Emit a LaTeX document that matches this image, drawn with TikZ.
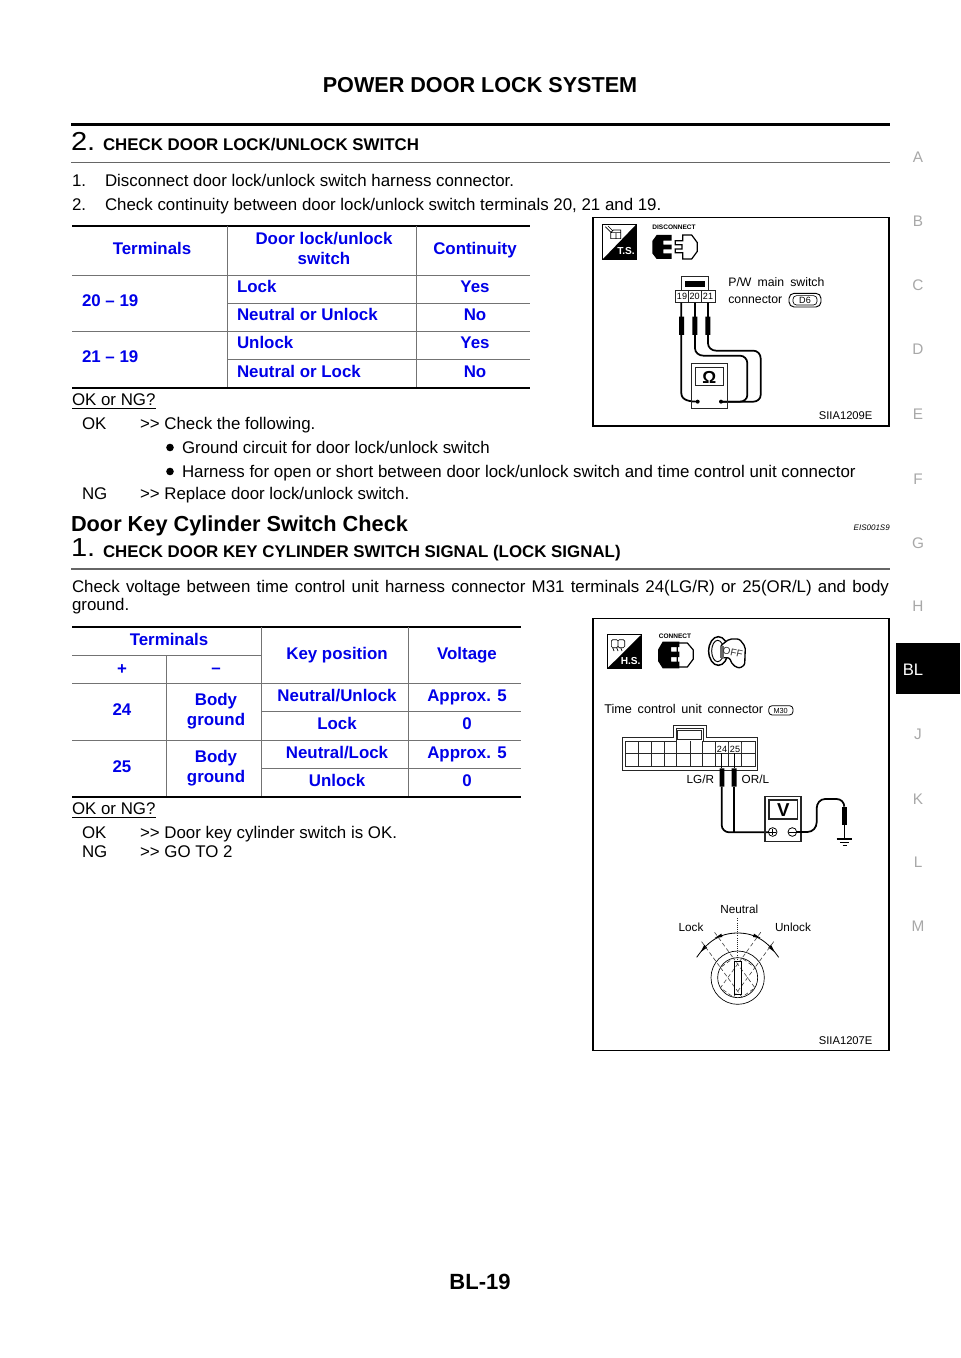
\documentclass[tikz,border=0pt]{standalone}
\usepackage{fontspec}
\setmainfont{Liberation Sans}
\usetikzlibrary{arrows.meta}
\definecolor{tblue}{HTML}{0000E8}
\definecolor{tabgrey}{HTML}{A8A8A8}
\newcommand{\bodyfs}{\fontsize{12.66}{14}\selectfont}
\tikzset{
  txt/.style={anchor=base west,inner sep=0,outer sep=0,font=\bodyfs},
  ctxt/.style={anchor=base,inner sep=0,outer sep=0,font=\bodyfs},
  hd/.style={txt,font=\bodyfs\bfseries},
  big/.style={txt,font=\fontsize{19.5}{22}\selectfont},
  cellc/.style={ctxt,text=tblue,font=\bodyfs\bfseries},
  celll/.style={txt,text=tblue,font=\bodyfs\bfseries},
  side/.style={ctxt,text=tabgrey,font=\fontsize{11.5}{12}\selectfont},
  dg/.style={txt,font=\fontsize{9.2}{10}\selectfont},
  dgc/.style={ctxt,font=\fontsize{9.2}{10}\selectfont},
  grid/.style={draw=black!55,line width=.6pt},
  heavy/.style={draw=black,line width=1.5pt},
  rulethin/.style={draw=black!60,line width=1.1pt},
  panel/.style={draw=black,line width=1.2pt,fill=white},
  wire/.style={draw=black,line width=1.3pt},
  probe/.style={fill=black,draw=none},
  fine/.style={draw=black,line width=.5pt},
  med/.style={draw=black!85,line width=.7pt},
  dot/.style={draw=black!75,line width=.45pt,densely dashed},
}
\begin{document}
\begin{tikzpicture}[x=.75pt,y=-.75pt]
\useasboundingbox (0,0) rectangle (960,1358);
\fill[white] (0,0) rectangle (960,1358);
% header
\node[ctxt,font=\fontsize{16.2}{20}\selectfont\bfseries] (title) at (480,93) {POWER DOOR LOCK SYSTEM};
\draw[draw=black,line width=1.6pt] (71,124.5)--(890,124.5);
\draw[rulethin] (71,162.7)--(890,162.7);
\node[big] (n2) at (71,150.5) {\scalebox{1.12}[1]{2.}};
\node[hd] (h1) at (103,150.5) {CHECK DOOR LOCK/UNLOCK SWITCH};
\node[txt] (a1) at (72,187) {1.};
\node[txt] (a2) at (105,187) {Disconnect door lock/unlock switch harness connector.};
\node[txt] (b1) at (72,211) {2.};
\node[txt] (b2) at (105,211) {Check continuity between door lock/unlock switch terminals 20, 21 and 19.};
% table 1
\draw[heavy] (72,226)--(530,226);
\draw[grid] (72,275)--(530,275) (227,303)--(530,303) (72,331)--(530,331) (227,359.5)--(530,359.5);
\draw[grid] (227,226)--(227,388) (416,226)--(416,388);
\draw[heavy] (72,388)--(530,388);
\node[cellc] (t1a) at (152,255) {Terminals};
\node[cellc] (t1b) at (324,245) {Door lock/unlock};
\node[cellc] (t1c) at (324,265) {switch};
\node[cellc] (t1d) at (475,255) {Continuity};
\node[celll] (t1e) at (82,307) {20 – 19};
\node[celll] (t1f) at (82,363) {21 – 19};
\node[celll] (t1g) at (237,293) {Lock};
\node[celll] (t1h) at (237,321) {Neutral or Unlock};
\node[celll] (t1i) at (237,349) {Unlock};
\node[celll] (t1j) at (237,378) {Neutral or Lock};
\node[cellc] (t1k) at (475,293) {Yes};
\node[cellc] (t1l) at (475,321) {No};
\node[cellc] (t1m) at (475,349) {Yes};
\node[cellc] (t1n) at (475,378) {No};
\node[txt] (q1) at (72,405) {OK or NG?};
\draw[fine] (72,408.5)--(156,408.5);
\node[txt] (c1) at (82,429) {OK};
\node[txt] (c2) at (140,429) {{>}{>} Check the following.};
\fill (170,447.5) circle (3.8);
\node[txt] (c3) at (182,453) {Ground circuit for door lock/unlock switch};
\fill (170,471.5) circle (3.8);
\node[txt] (c4) at (182,477) {Harness for open or short between door lock/unlock switch and time control unit connector};
\node[txt] (c5) at (82,499) {NG};
\node[txt] (c6) at (140,499) {{>}{>} Replace door lock/unlock switch.};
% section 2
\node[txt,font=\fontsize{16.3}{20}\selectfont\bfseries] (s2) at (71,531) {Door Key Cylinder Switch Check};
\node[anchor=base east,inner sep=0,font=\fontsize{6}{8}\selectfont\itshape] (eis) at (890,530) {EIS001S9};
\node[big] (n1) at (71,556.5) {\scalebox{1.12}[1]{1.}};
\node[hd] (h2) at (103,557) {CHECK DOOR KEY CYLINDER SWITCH SIGNAL (LOCK SIGNAL)};
\draw[rulethin] (71,569)--(890,569);
\node[txt] (d1) at (72,592) {\makebox[612.75pt][s]{Check voltage between time control unit harness connector M31 terminals 24(LG/R) or 25(OR/L) and body}};
\node[txt] (d2) at (72,610) {ground.};
% table 2
\draw[heavy] (72,627)--(521,627);
\draw[grid] (72,655)--(261.5,655) (72,683)--(521,683) (261.5,711.5)--(521,711.5) (72,740)--(521,740) (261.5,768)--(521,768);
\draw[grid] (166.7,655)--(166.7,796.5) (261.5,627)--(261.5,796.5) (408,627)--(408,796.5);
\draw[heavy] (72,796.5)--(521,796.5);
\node[cellc] (t2a) at (169,645) {Terminals};
\node[cellc] (t2b) at (122,674) {+};
\node[cellc] (t2c) at (216,673) {–};
\node[cellc] (t2d) at (337,659) {Key position};
\node[cellc] (t2e) at (467,659) {Voltage};
\node[cellc] (t2f) at (122,715) {24};
\node[cellc] (t2g) at (216,705) {Body};
\node[cellc] (t2h) at (216,725) {ground};
\node[cellc] (t2i) at (337,701) {Neutral/Unlock};
\node[cellc] (t2j) at (467,701) {Approx. 5};
\node[cellc] (t2k) at (337,729) {Lock};
\node[cellc] (t2l) at (467,729) {0};
\node[cellc] (t2m) at (122,772) {25};
\node[cellc] (t2n) at (216,762) {Body};
\node[cellc] (t2o) at (216,782) {ground};
\node[cellc] (t2p) at (337,758) {Neutral/Lock};
\node[cellc] (t2q) at (467,758) {Approx. 5};
\node[cellc] (t2r) at (337,786) {Unlock};
\node[cellc] (t2s) at (467,786) {0};
\node[txt] (q2) at (72,814) {OK or NG?};
\draw[fine] (72,817.5)--(156,817.5);
\node[txt] (e1) at (82,838) {OK};
\node[txt] (e2) at (140,838) {{>}{>} Door key cylinder switch is OK.};
\node[txt] (e3) at (82,857) {NG};
\node[txt] (e4) at (140,857) {{>}{>} GO TO 2};
% footer
\node[ctxt,font=\fontsize{16.5}{18}\selectfont\bfseries] (foot) at (480,1289) {BL-19};
% side tabs
\fill[black] (896,643) rectangle (960,694);
\node[ctxt,text=white,font=\fontsize{12.5}{14}\selectfont] (sBL) at (913,675) {BL};
\node[side] (sA) at (918,163) {A};
\node[side] (sB) at (918,227) {B};
\node[side] (sC) at (918,291) {C};
\node[side] (sD) at (918,355) {D};
\node[side] (sE) at (918,419) {E};
\node[side] (sF) at (918,484) {F};
\node[side] (sG) at (918,548) {G};
\node[side] (sH) at (918,611) {H};
\node[side] (sJ) at (918,739) {J};
\node[side] (sK) at (918,804) {K};
\node[side] (sL) at (918,867) {L};
\node[side] (sM) at (918,931) {M};
% panels
\draw[panel] (593,217.5) rectangle (889,426);
\draw[panel] (593,618.5) rectangle (889,1050.5);
% diagram 1 (coordinates in 3x crop pixels)
\begin{scope}[shift={(590,210)},x=.25pt,y=-.25pt]
  \draw[black,line width=.7pt,fill=white] (38,42) rectangle (140,148);
  \fill[black] (38,148)--(140,42)--(140,148)--cycle;
  \draw[black,line width=.5pt] (62,68) rectangle (78,86) (78,68) rectangle (92,86) (62,68)--(70,60)--(92,60)--(92,68) (46,50)--(62,66) (54,48)--(68,62);
  \node[anchor=center,inner sep=0,text=white,font=\fontsize{7.6}{8}\selectfont\bfseries] (ts) at (108,124) {T.S.};
  \node[ctxt,font=\fontsize{4.9}{5}\selectfont\bfseries] (disc) at (252,60) {DISCONNECT};
  \fill[black] (200,75)--(245,75)--(245,92)--(220,92)--(220,104)--(245,104)--(245,118)--(220,118)--(220,130)--(245,130)--(245,147)--(200,147)--(187,130)--(187,93)--cycle;
  \draw[black,line width=.9pt,fill=white] (278,75)--(305,75)--(322,98)--(322,124)--(305,147)--(278,147)--(278,128)--(256,128)--(256,117)--(276,117)--(276,104)--(256,104)--(256,92)--(278,92)--cycle;
  \draw[med] (275,240)--(275,200)--(355,200)--(355,240);
  \fill[black] (285,212) rectangle (345,232);
  \draw[med] (257,240) rectangle (375,278) (295,240)--(295,278) (333,240)--(333,278);
  \node[ctxt,font=\fontsize{6.8}{8}\selectfont] (p19) at (276,269) {19};
  \node[ctxt,font=\fontsize{6.8}{8}\selectfont] (p20) at (314,269) {20};
  \node[ctxt,font=\fontsize{6.8}{8}\selectfont] (p21) at (354,269) {21};
  \node[dg] (pw) at (415,230) {P/W\hspace{.5em}main\hspace{.5em}switch};
  \node[dg] (cn) at (415,280) {connector};
  \draw[black,line width=.7pt,rounded corners=3.8pt] (597,250) rectangle (693,291);
  \draw[black,line width=.5pt,rounded corners=2.6pt] (609,257) rectangle (681,285);
  \node[ctxt,font=\fontsize{6.8}{8}\selectfont] (d6) at (645,280) {D6};
  \draw[wire] (274,278)--(274,550) to[out=-90,in=180] (323,575);
  \draw[wire] (315,278)--(315,415) to[out=-90,in=180] (340,437)--(450,437) to[out=0,in=90] (472,460)--(472,555) to[out=-90,in=0] (450,575)--(393,575);
  \draw[wire] (354,278)--(354,400) to[out=-90,in=180] (378,422)--(490,422) to[out=0,in=90] (512,445)--(512,555) to[out=-90,in=0] (490,575)--(393,575);
  \fill[probe] (267,320) rectangle (282,375) (307,320) rectangle (322,375) (346,320) rectangle (361,375);
  \draw[med,line width=.9pt] (305,460) rectangle (412,595) (316,473) rectangle (400,527);
  \node[anchor=center,inner sep=0,font=\fontsize{13}{14}\selectfont\bfseries] (ohm) at (358,503) {Ω};
  \fill (323,575) circle (6) (393,575) circle (6);
  \node[anchor=base east,inner sep=0,font=\fontsize{8.4}{10}\selectfont] (id1) at (848,628) {SIIA1209E};
\end{scope}
% diagram 2
\begin{scope}[shift={(590,615)},x=.25pt,y=-.25pt]
  \draw[black,line width=.7pt,fill=white] (52,58) rectangle (155,160);
  \fill[black] (52,160)--(155,58)--(155,160)--cycle;
  \draw[black,line width=.5pt,rounded corners=1pt] (64,74) rectangle (84,98) (84,74) rectangle (104,98) (68,98)--(72,108) (80,98)--(84,108) (92,98)--(96,108);
  \node[anchor=center,inner sep=0,text=white,font=\fontsize{7.6}{8}\selectfont\bfseries] (hs) at (122,138) {H.S.};
  \node[ctxt,font=\fontsize{4.9}{5}\selectfont\bfseries] (conn) at (255,70) {CONNECT};
  \draw[black,line width=.9pt,fill=white] (262,84)--(292,84)--(310,105)--(310,132)--(292,156)--(262,156)--cycle;
  \fill[black] (218,80)--(268,80)--(268,96)--(243,96)--(243,110)--(268,110)--(268,126)--(243,126)--(243,140)--(268,140)--(268,160)--(218,160)--(204,138)--(204,104)--cycle;
  \draw[black,line width=1.1pt] (385,108) ellipse [x radius=29,y radius=43];
  \draw[black,line width=.7pt] (383,108) ellipse [x radius=18,y radius=32];
  \draw[black,line width=1pt,fill=white,rounded corners=1.6pt] (392,92)--(418,72)--(448,72)--(466,95)--(464,150)--(448,160)--(428,150)--(418,128)--(392,128)--cycle;
  \fill[black!60] (390,92) rectangle (402,128);
  \node[anchor=center,inner sep=0,rotate=-12,text=black!80,font=\fontsize{7.5}{8}\selectfont] (off) at (428,112) {OFF};
  \node[dg,font=\fontsize{9.5}{10}\selectfont] (tc) at (43,295) {Time\hspace{.45em}control\hspace{.45em}unit\hspace{.45em}connector};
  \draw[black,line width=.6pt,rounded corners=2.6pt] (536,272) rectangle (609,300);
  \node[ctxt,font=\fontsize{5.5}{6}\selectfont] (m30) at (572,294) {M30};
  \draw[med] (97,465)--(97,367)--(250,367)--(250,330)--(350,330)--(350,367)--(503,367)--(503,465)--cycle;
  \draw[med] (106,455)--(106,378)--(260,378)--(260,340)--(340,340)--(340,378)--(495,378)--(495,455)--cycle;
  \draw[med] (262,345) rectangle (335,372);
  \draw[med] (106,415)--(495,415);
  \foreach \vx in {146,185,224,260,300,338,377,416,455} {\draw[med] (\vx,378)--(\vx,455);}
  \fill[white] (379,385) rectangle (414,413) (418,385) rectangle (453,413);
  \node[ctxt,font=\fontsize{6.8}{8}\selectfont] (p24) at (396,411) {24};
  \node[ctxt,font=\fontsize{6.8}{8}\selectfont] (p25) at (435,411) {25};
  \node[anchor=base east,inner sep=0,font=\fontsize{8.8}{10}\selectfont] (lgr) at (373,505) {LG/R};
  \node[dg,font=\fontsize{8.8}{10}\selectfont] (orl) at (455,505) {OR/L};
  \draw[wire,line width=.7pt] (395,415)--(395,460) (433,415)--(433,460);
  \draw[wire] (395,515)--(395,630) to[out=-90,in=180] (418,652)--(535,652);
  \draw[wire] (433,515)--(433,652);
  \fill[probe] (389,460) rectangle (403,515) (425,460) rectangle (440,515);
  \draw[med,line width=.9pt] (525,545) rectangle (633,680) (537,555) rectangle (622,612);
  \node[anchor=center,inner sep=0,font=\fontsize{14}{15}\selectfont\bfseries] (volt) at (580,585) {V};
  \draw[black,line width=.6pt] (548,651) circle (13) (607,651) circle (13);
  \draw[black,line width=.5pt] (538,651)--(558,651) (548,641)--(548,661) (597,651)--(617,651);
  \draw[wire] (620,651)--(652,651) to[out=0,in=-90] (680,622)--(680,580) to[out=90,in=180] (705,552)--(740,552) to[out=0,in=90] (763,575);
  \fill[probe] (755,575) rectangle (770,630);
  \draw[wire,line width=.8pt] (763,630)--(763,672);
  \draw[black,line width=.8pt] (740,672)--(787,672) (750,682)--(777,682) (758,692)--(770,692);
  % key positions (coordinates of the lower crop)
  \begin{scope}[shift={(0,705)}]
    \node[dgc,font=\fontsize{8.8}{10}\selectfont] (neu) at (448,190) {Neutral};
    \node[dg,font=\fontsize{8.8}{10}\selectfont] (lck) at (266,243) {Lock};
    \node[dg,font=\fontsize{8.8}{10}\selectfont] (ulk) at (555,243) {Unlock};
    \draw[black,line width=.5pt] (443,383) circle (80) (443,383) circle (60);
    \draw[black,line width=.6pt] (320,322) to[out=55,in=180] (443,249) to[out=0,in=125] (566,322);
    \fill[black] (332,306)--(343,284)--(351,293)--cycle (374,264)--(394,251)--(397,261)--cycle
                 (512,264)--(492,251)--(489,261)--cycle (554,306)--(543,284)--(535,293)--cycle;
    \draw[draw=black!85,line width=.6pt,densely dotted] (443,205)--(443,335);
    \begin{scope}[rotate around={36:(443,383)}]
      \draw[dot] (419,328) rectangle (467,438);
      \draw[dot] (419,232)--(419,328) (467,232)--(467,328);
    \end{scope}
    \begin{scope}[rotate around={-36:(443,383)}]
      \draw[dot] (419,328) rectangle (467,438);
      \draw[dot] (419,232)--(419,328) (467,232)--(467,328);
    \end{scope}
    \draw[black,line width=.6pt] (434,335) rectangle (453,432);
    \node[anchor=base east,inner sep=0,font=\fontsize{8.4}{10}\selectfont] (id2) at (848,583) {SIIA1207E};
  \end{scope}
\end{scope}
\end{tikzpicture}
\end{document}
